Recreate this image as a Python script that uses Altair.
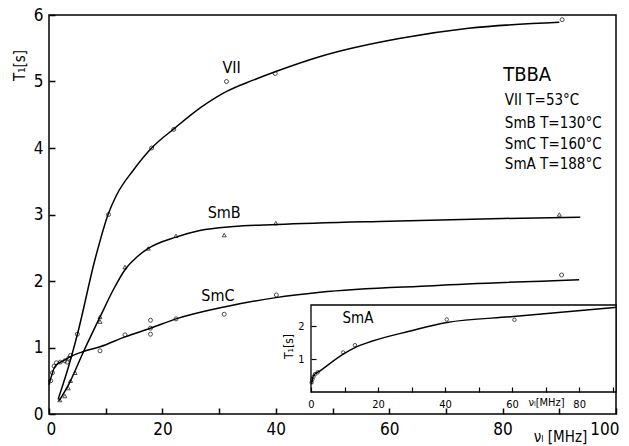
import altair as alt
import pandas as pd

FONT = "DejaVu Sans Condensed, Liberation Sans Narrow, DejaVu Sans, sans-serif"
W, H = 567, 399

# ---------------- main panel data ----------------
series_names = ["VII", "SmB", "SmC"]

vii_curve_x = [1.6, 3.4, 5.1, 8.1, 10.5, 11.9, 14.9, 18.1, 22.2, 26.6, 31.5, 36.0, 40.0, 48.0, 62.0, 74.0, 90.0]
vii_curve_y = [0.22, 0.70, 1.23, 2.32, 3.02, 3.29, 3.67, 4.00, 4.30, 4.60, 4.86, 5.02, 5.15, 5.38, 5.65, 5.80, 5.89]

smb_curve_x = [1.8, 3.5, 6.1, 9.0, 11.6, 13.4, 15.5, 17.5, 22.4, 26.6, 32.5, 40.2, 60.0, 80.0, 93.7]
smb_curve_y = [0.20, 0.45, 0.94, 1.46, 1.91, 2.17, 2.36, 2.49, 2.66, 2.76, 2.82, 2.85, 2.90, 2.94, 2.96]

smc_curve_x = [0.0, 1.1, 2.5, 3.7, 6.1, 9.0, 13.4, 17.9, 22.4, 30.9, 40.0, 47.8, 67.8, 93.5]
smc_curve_y = [0.44, 0.72, 0.80, 0.86, 0.94, 1.01, 1.16, 1.29, 1.43, 1.61, 1.75, 1.83, 1.93, 2.02]

vii_pts_x = [3.2, 3.5, 3.8, 5.0, 10.5, 18.1, 22.0, 31.3, 39.9, 90.5]
vii_pts_y = [0.78, 0.84, 0.88, 1.20, 3.00, 4.00, 4.28, 5.00, 5.12, 5.93]

smb_pts_x = [1.9, 2.8, 3.4, 3.8, 4.6, 9.0, 9.0, 13.4, 17.5, 22.4, 30.9, 40.0, 90.0]
smb_pts_y = [0.21, 0.27, 0.39, 0.50, 0.62, 1.39, 1.46, 2.21, 2.49, 2.68, 2.69, 2.87, 3.00]

smc_pts_x = [0.3, 0.6, 0.9, 1.3, 2.0, 2.8, 9.0, 13.4, 17.9, 17.9, 17.9, 22.4, 30.9, 40.1, 90.4]
smc_pts_y = [0.50, 0.62, 0.72, 0.77, 0.78, 0.80, 0.95, 1.19, 1.20, 1.29, 1.41, 1.43, 1.50, 1.79, 2.09]

# ---------------- inset (SmA) data ----------------
sma_curve_x = [0.2, 0.7, 2.7, 9.6, 13.1, 18.1, 29.6, 40.5, 60.4, 91.0]
sma_curve_y = [0.25, 0.49, 0.64, 1.15, 1.35, 1.54, 1.85, 2.11, 2.29, 2.57]
sma_pts_x = [0.2, 0.4, 0.7, 1.2, 2.0, 9.6, 13.1, 40.5, 60.7]
sma_pts_y = [0.29, 0.38, 0.46, 0.54, 0.60, 1.20, 1.42, 2.20, 2.19]

# ---------------- axes / ticks ----------------
main_x_dom = [0, 100]
main_y_dom = [0, 6]
main_x_ticks = [0, 10, 20, 30, 40, 50, 60, 70, 80, 90, 100]
main_y_ticks = [0, 1, 2, 3, 4, 5, 6]

ins_x_dom = [0, 91]
ins_y_dom = [0, 2.64]
ins_x_ticks = [0, 10, 20, 30, 40, 50, 60, 70, 80, 90]
ins_y_ticks = [1, 2]

# ---------------- annotations ----------------
legend_title = "TBBA"
legend_lines = ["VII  T=53°C", "SmB  T=130°C", "SmC  T=160°C", "SmA  T=188°C"]
legend_x = 80.4
legend_title_y = 5.10
legend_lines_y = [4.72, 4.38, 4.06, 3.76]

curve_labels = ["VII", "SmB", "SmC"]
curve_label_x = [32.2, 30.9, 29.8]
curve_label_y = [5.20, 3.03, 1.77]

sma_label_x = [14.0]
sma_label_y = [2.25]


def frame(xs, ys, name=None):
    d = pd.DataFrame({"x": xs, "y": ys})
    if name is not None:
        d["s"] = name
    return d


curves = pd.concat([
    frame(vii_curve_x, vii_curve_y, "VII"),
    frame(smb_curve_x, smb_curve_y, "SmB"),
    frame(smc_curve_x, smc_curve_y, "SmC"),
])
points = pd.concat([
    frame(vii_pts_x, vii_pts_y, "VII"),
    frame(smb_pts_x, smb_pts_y, "SmB"),
    frame(smc_pts_x, smc_pts_y, "SmC"),
])


def mx():
    return alt.Scale(domain=main_x_dom, nice=False, zero=False)


def my():
    return alt.Scale(domain=main_y_dom, nice=False, zero=False)


TK = 6  # tick length (ticks point inward)
x_axis = alt.Axis(orient="bottom", values=main_x_ticks, offset=-TK, tickSize=TK, tickColor="black",
                  tickWidth=1.5, domain=False, grid=False,
                  labelExpr="datum.value % 20 == 0 ? datum.label : ''",
                  labelFlush=True, labelFlushOffset=3,
                  labelPadding=7, labelFontSize=17, format="d",
                  title="νₗ [MHz]", titleX=511, titleY=28, titleAlign="center",
                  titleBaseline="middle", titleFontSize=15, zindex=1)
y_axis = alt.Axis(orient="left", values=main_y_ticks, offset=-TK, tickSize=TK, tickColor="black",
                  tickWidth=1.5, domain=False, grid=False,
                  labelPadding=6, labelFontSize=17, format="d",
                  title="T₁[s]", titleX=-30 - TK, titleY=50, titleAngle=270,
                  titleAlign="center", titleBaseline="middle", titleFontSize=15, zindex=1)

lines = alt.Chart(curves).mark_line(color="black", strokeWidth=1.5, interpolate="monotone").encode(
    x=alt.X("x:Q", scale=mx(), axis=x_axis),
    y=alt.Y("y:Q", scale=my(), axis=y_axis),
    detail="s:N",
)
pts = alt.Chart(points).mark_point(color="black", filled=False, size=16, strokeWidth=1).encode(
    x=alt.X("x:Q", scale=mx(), axis=None),
    y=alt.Y("y:Q", scale=my(), axis=None),
    shape=alt.Shape("s:N", scale=alt.Scale(domain=series_names,
                                           range=["circle", "triangle-up", "circle"]), legend=None),
)
title_txt = alt.Chart(pd.DataFrame({"x": [legend_x - 0.3], "y": [legend_title_y], "t": [legend_title]})).mark_text(
    align="left", baseline="middle", fontSize=20, font=FONT, color="black").encode(
    x=alt.X("x:Q", scale=mx(), axis=None), y=alt.Y("y:Q", scale=my(), axis=None), text="t:N")
leg_txt = alt.Chart(pd.DataFrame({"x": [legend_x] * len(legend_lines), "y": legend_lines_y, "t": legend_lines})).mark_text(
    align="left", baseline="middle", fontSize=15, font=FONT, color="black").encode(
    x=alt.X("x:Q", scale=mx(), axis=None), y=alt.Y("y:Q", scale=my(), axis=None), text="t:N")
lbl_txt = alt.Chart(pd.DataFrame({"x": curve_label_x, "y": curve_label_y, "t": curve_labels})).mark_text(
    align="center", baseline="middle", fontSize=16, font=FONT, color="black").encode(
    x=alt.X("x:Q", scale=mx(), axis=None), y=alt.Y("y:Q", scale=my(), axis=None), text="t:N")

# ---------------- inset ----------------
INS_L, INS_R, INS_B, INS_T = 262, 567, 377, 290
ITK = 5


def ix():
    return alt.Scale(domain=ins_x_dom, range=[INS_L, INS_R], nice=False, zero=False)


def iy():
    return alt.Scale(domain=ins_y_dom, range=[INS_B, INS_T], nice=False, zero=False)


ins_box = alt.Chart(pd.DataFrame({"x": [ins_x_dom[0]], "x2": [ins_x_dom[1]],
                                  "y": [ins_y_dom[0]], "y2": [ins_y_dom[1]]})).mark_rect(
    fill="white", stroke="black", strokeWidth=1.3).encode(
    x=alt.X("x:Q", scale=ix(), axis=None), x2="x2:Q",
    y=alt.Y("y:Q", scale=iy(), axis=None), y2="y2:Q")

ins_line = alt.Chart(frame(sma_curve_x, sma_curve_y)).mark_line(
    color="black", strokeWidth=1.4, interpolate="monotone").encode(
    x=alt.X("x:Q", scale=ix(),
            axis=alt.Axis(orient="bottom", offset=-(H - INS_B) - ITK, values=ins_x_ticks,
                          tickSize=ITK, tickColor="black", tickWidth=1.2, domain=False,
                          grid=False, labelPadding=6, labelFontSize=11, format="d",
                          labelExpr="datum.value % 20 == 0 ? datum.label : ''",
                          title="νₗ[MHz]", titleX=497, titleY=15, titleAlign="center",
                          titleBaseline="middle", titleFontSize=11, zindex=1)),
    y=alt.Y("y:Q", scale=iy(),
            axis=alt.Axis(orient="left", offset=-INS_L - ITK, values=ins_y_ticks,
                          tickSize=ITK, tickColor="black", tickWidth=1.2, domain=False,
                          grid=False, labelPadding=7, labelFontSize=11, format="d",
                          title="T₁[s]", titleX=-23 - ITK, titleY=331, titleAngle=270,
                          titleAlign="center", titleBaseline="middle", titleFontSize=12, zindex=1)),
)
ins_pts = alt.Chart(frame(sma_pts_x, sma_pts_y)).mark_point(
    color="black", filled=False, size=12, strokeWidth=1).encode(
    x=alt.X("x:Q", scale=ix(), axis=None), y=alt.Y("y:Q", scale=iy(), axis=None))
ins_lbl = alt.Chart(pd.DataFrame({"x": sma_label_x, "y": sma_label_y, "t": ["SmA"]})).mark_text(
    align="center", baseline="middle", fontSize=15, font=FONT, color="black").encode(
    x=alt.X("x:Q", scale=ix(), axis=None), y=alt.Y("y:Q", scale=iy(), axis=None), text="t:N")

chart = alt.layer(
    lines, pts, title_txt, leg_txt, lbl_txt, ins_box, ins_line, ins_pts, ins_lbl
).resolve_scale(
    x="independent", y="independent"
).properties(
    width=W, height=H,
    padding={"left": 49, "top": 15, "right": 13, "bottom": 32},
    autosize=alt.AutoSizeParams(type="none"),
    background="white",
).configure_view(
    stroke="black", strokeWidth=1.5
).configure_axis(
    labelFont=FONT, titleFont=FONT, labelColor="black", titleColor="black",
    domainColor="black", domainWidth=1.5, titleFontWeight="normal", labelFlush=False,
)

chart.save("out.html", embed_options={"renderer": "svg", "actions": False})
